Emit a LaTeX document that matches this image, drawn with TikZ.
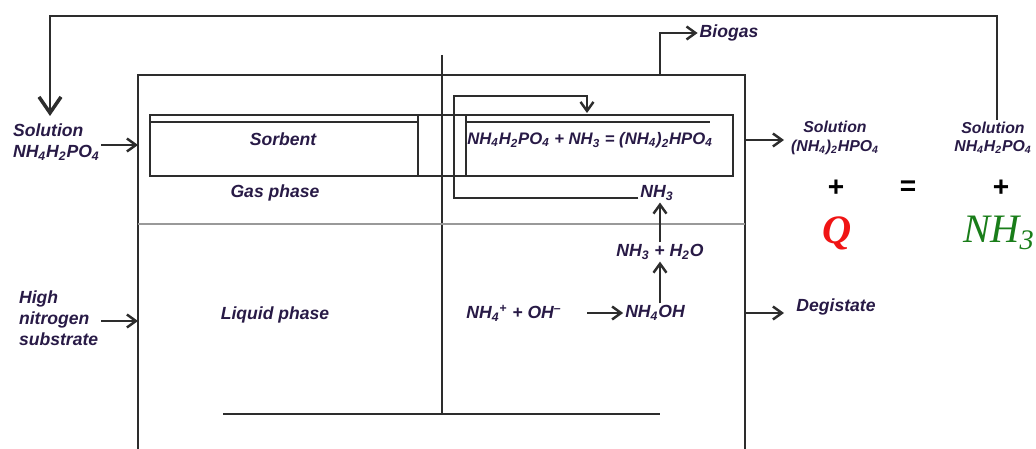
\documentclass[tikz,border=0pt]{standalone}
\usepackage{fontspec}
\setmainfont{Liberation Sans}
\newfontfamily\serifit{Liberation Serif}
\usetikzlibrary{arrows.meta, positioning}

\definecolor{txtcol}{RGB}{40,26,70}
\definecolor{linecol}{RGB}{45,45,45}
\definecolor{qred}{RGB}{240,20,20}
\definecolor{nhgreen}{RGB}{25,125,25}

\newcommand{\sbs}[1]{\textsubscript{#1}}
\newcommand{\sps}[1]{\textsuperscript{#1}}

\begin{document}
\begin{tikzpicture}[
				x=0.02cm, y=-0.02cm,
				lbl/.style={font=\bfseries\itshape\fontsize{10}{12}\selectfont, text=txtcol, inner sep=1pt, align=center},
				small lbl/.style={lbl, font=\bfseries\itshape\fontsize{9}{10.5}\selectfont},
				sign/.style={font=\bfseries\fontsize{16}{18}\selectfont},
				wall/.style={draw=linecol, line width=1.3pt},
				thin wall/.style={draw=gray!80, line width=0.8pt},
				flow/.style={draw=linecol, line width=1.1pt, -{Straight Barb[length=1.8mm, width=2.6mm, line width=1.4pt]}},
				big flow/.style={draw=linecol, line width=1.3pt, -{Straight Barb[length=3.2mm, width=4.4mm, line width=2pt]}},
				]
				\useasboundingbox (0,0) rectangle (1036,449);
				
				%% ── Reactor walls ─────────────────────────────────────────────
				\draw[wall] (138,449) |- (745,75) -- (745,449);
				\draw[wall] (442,55) -- (442,414);
				\draw[wall] (223,414) -- (660,414);
				\draw[thin wall] (138,224) -- (745,224);
				
				%% sorbent and reaction chambers
				\draw[wall] (150,115) rectangle (418,176);
				\draw[wall] (150,122) -- (418,122);
				\draw[wall] (466,115) rectangle (733,176);
				\draw[wall] (466,122) -- (710,122);
				\draw[wall] (418,115) -- (466,115);
				\draw[wall] (418,176) -- (466,176);
				
				%% ── Labels inside the reactor ─────────────────────────────────
				\node[lbl] (sorb) at (283,139) {Sorbent};
				\node[lbl] (gas) at (275,193) {Gas phase};
				\node[lbl] (liq) at (275,315) {Liquid phase};
				\node[lbl, font=\bfseries\itshape\fontsize{9.5}{11}\selectfont] (eqn) at (590,140) {NH\sbs{4}H\sbs{2}PO\sbs{4} + NH\sbs{3} = (NH\sbs{4})\sbs{2}HPO\sbs{4}};
				\node[lbl] (nh3g) at (657,193) {NH\sbs{3}};
				\node[lbl] (nh3w) at (660,252) {NH\sbs{3} + H\sbs{2}O};
				\node[lbl] (nh4oh) at (655,313) {NH\sbs{4}OH};
				\node[lbl] (ions) at (514,313) {NH\sbs{4}\sps{+} + OH\sps{--}};
				
				\coordinate (eqin) at (587,113);
				\coordinate (loopL) at (454,96);
				\coordinate (ionsout) at (587,313);
				\draw[flow] ([yshift=-3]nh3g.west) -| (loopL) -| (eqin);
				\draw[flow] (nh3w.north) -- (nh3g.south -| nh3w.north);
				\draw[flow] (nh3w.south |- nh4oh.north) -- (nh3w.south);
				\draw[flow] (ionsout) -- (nh4oh.west);
				
				%% ── Inputs ────────────────────────────────────────────────────
				\node[lbl, align=left, anchor=west] (solin) at (11,142) {Solution\\NH\sbs{4}H\sbs{2}PO\sbs{4}};
				\node[lbl, align=left, anchor=west] (subin) at (17,318) {High\\nitrogen\\substrate};
				\coordinate (solwall) at (138,145);
				\coordinate (subwall) at (138,321);
				\draw[flow] (101,145) -- (solwall);
				\draw[flow] (101,321) -- (subwall);
				
				%% ── Outputs ───────────────────────────────────────────────────
				\node[lbl] (biogas) at (729,33) {Biogas};
				\draw[flow] (660,75) |- (biogas.west);
				
				\node[small lbl] (solout) at (835,138) {Solution\\(NH\sbs{4})\sbs{2}HPO\sbs{4}};
				\coordinate (soloutin) at (784,140);
				\draw[flow] (745,140) -- (soloutin);
				
				\node[lbl] (dig) at (836,307) {Degistate};
				\coordinate (digin) at (784,313);
				\draw[flow] (745,313) -- (digin);
				
				\node[small lbl] (solret) at (993,138) {Solution\\NH\sbs{4}H\sbs{2}PO\sbs{4}};
				
				%% ── Balance ───────────────────────────────────────────────────
				\node[sign] (plus1) at (836,188) {+};
				\node[sign] (eq) at (908,188) {=};
				\node[sign] (plus2) at (1001,188) {+};
				\node[font=\serifit\bfseries\itshape\fontsize{23}{25}\selectfont, text=qred] (q) at (837,233) {Q};
				\node[font=\serifit\itshape\fontsize{23}{25}\selectfont, text=nhgreen] (nh3out) at (999,233) {NH\textsubscript{3}};
				
				%% ── Recycle line ──────────────────────────────────────────────
				\coordinate (topR) at (997,16);
				\coordinate (retin) at (50,116);
				\draw[big flow] (solret.north -| topR) |- (topR) -| (retin);
				
			\end{tikzpicture}
\end{document}
